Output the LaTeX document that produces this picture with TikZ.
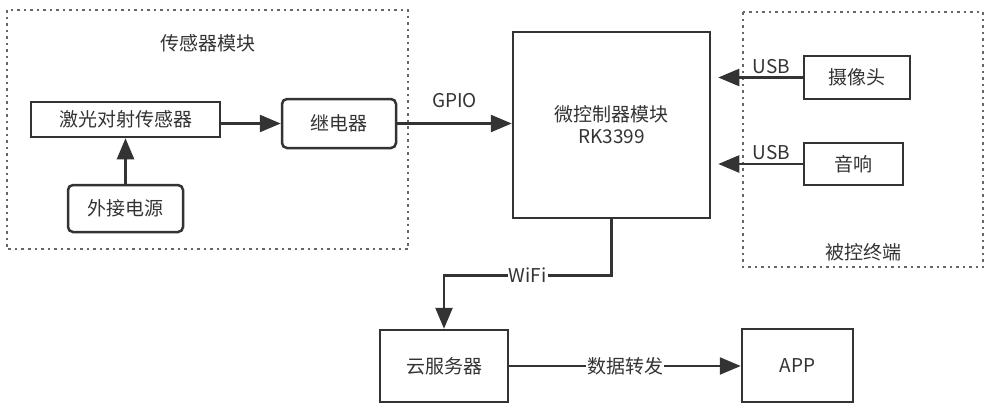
\documentclass[tikz,border=0pt]{standalone}
\usepackage{fontspec}
\setmainfont{Noto Sans CJK SC}
\usetikzlibrary{arrows.meta}
\definecolor{ink}{HTML}{333333}
\definecolor{dotgray}{HTML}{666666}
\begin{document}
\begin{tikzpicture}[x=1pt,y=-1pt,
	font=\fontsize{19}{22}\selectfont,
	box/.style={draw=ink, line width=2.5pt, text=ink, inner sep=0pt},
	rbox/.style={box, rounded corners=5pt},
	group/.style={draw=dotgray, line width=2.5pt, dash pattern=on 2.5pt off 4pt},
	arr/.style={draw=ink, line width=2.5pt, -{Triangle[length=21pt,width=17pt]}},
	lbl/.style={text=ink, inner sep=1pt}]
	\useasboundingbox (0,0) rectangle (993,415);
	% dotted groups
	\draw[group] (7,10) rectangle (408,249);
	\draw[group] (743,12) rectangle (983,267);
	\path
	(208,43) node[lbl] (sensortitle) {传感器模块}
	(863,252) node[lbl] (termtitle) {被控终端}
	;
	% sensor module
	\node[box, minimum width=189pt, minimum height=35pt] (sensor) at (125.5,119.5) {激光对射传感器};
	\node[rbox, minimum width=114pt, minimum height=49pt] (relay) at (339,123.5) {继电器};
	\node[rbox, minimum width=115pt, minimum height=47pt] (power) at (125.5,208.5) {外接电源};
	% controller
	\node[box, minimum width=197pt, minimum height=186pt, align=center] (mcu) at (611.5,125) {微控制器模块\\RK3399};
	% terminals
	\node[box, minimum width=106pt, minimum height=43pt] (camera) at (857,77.5) {摄像头};
	\node[box, minimum width=99pt, minimum height=42pt] (speaker) at (853.5,164) {音响};
	% cloud and app
	\node[box, minimum width=128pt, minimum height=72pt] (cloud) at (444,366) {云服务器};
	\node[box, minimum width=111pt, minimum height=73pt] (app) at (797.5,365.5) {APP};
	% connections
	\draw[arr] (power.north) -- (sensor.south);
	\draw[arr] (relay.west -| sensor.east) -- (relay.west);
	\draw[arr] (relay.east) -- (relay.east -| mcu.west) node[lbl, midway, above=14pt] {GPIO};
	\draw[arr] (camera.west) -- ([xshift=7pt]camera.west -| mcu.east) node[lbl, pos=0.37, above=2pt] {USB};
	\draw[arr] (speaker.west) -- ([xshift=7pt]speaker.west -| mcu.east) node[lbl, pos=0.37, above=2pt] {USB};
	\draw[arr] (mcu.south) -- ++(0,56) -| node[lbl, fill=white, pos=0.25] {WiFi} (cloud.north);
	\draw[arr] (cloud.east) -- (cloud.east -| app.west) node[lbl, fill=white, midway] {数据转发};
\end{tikzpicture}
\end{document}
